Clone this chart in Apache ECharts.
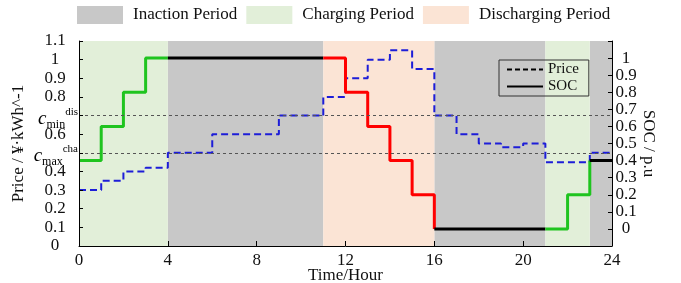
<!DOCTYPE html>
<html>
<head>
<meta charset="utf-8">
<script src="https://cdn.jsdelivr.net/npm/echarts@6/dist/echarts.min.js"></script>
<style>
  html, body { margin: 0; padding: 0; background: #fff; }
  #container { width: 681px; height: 283px; }
</style>
</head>
<body>
<div id="container"></div>
<script>
var dom = document.getElementById('container');
var myChart = echarts.init(dom, null, { renderer: 'canvas' });

var FONT = '"Liberation Serif", "DejaVu Serif", serif';

// hourly price (left axis), value held over [h, h+1)
var priceHourly = [0.30, 0.35, 0.40, 0.42, 0.50, 0.50, 0.60, 0.60, 0.60, 0.70, 0.70, 0.80,
                   0.90, 1.00, 1.05, 0.95, 0.70, 0.60, 0.55, 0.53, 0.55, 0.45, 0.45, 0.50];
// hourly SOC (right axis)
var socHourly = [0.4, 0.6, 0.8, 1.0, 1.0, 1.0, 1.0, 1.0, 1.0, 1.0, 1.0, 1.0,
                 0.8, 0.6, 0.4, 0.2, 0, 0, 0, 0, 0, 0, 0.2, 0.4];

var inactionPeriods = [[4, 11], [16, 21], [23, 24]];
var chargingPeriods = [[0, 4], [21, 23]];
var dischargingPeriods = [[11, 16]];

// price thresholds (c_min^dis, c_max^cha)
var thresholds = [0.7, 0.5];

var xTicks = [0, 4, 8, 12, 16, 20, 24];

var colors = {
    inaction: '#c8c8c8',
    charging: '#e2efd9',
    discharging: '#fbe4d5',
    chargeLine: '#1fc41f',
    dischargeLine: '#ff0000',
    idleLine: '#000000',
    price: '#1d1dd8'
};

function stepData(values, from, to) {
    var out = [];
    for (var h = from; h <= to; h++) {
        var v = h < values.length ? values[h] : values[values.length - 1];
        out.push([h, v]);
    }
    return out;
}

function areaData(periods) {
    return periods.map(function (p) {
        return [{ xAxis: p[0] }, { xAxis: p[1] }];
    });
}

// SOC pieces coloured by period type
var socSegments = [];
inactionPeriods.forEach(function (p) { socSegments.push({ p: p, color: colors.idleLine }); });
chargingPeriods.forEach(function (p) { socSegments.push({ p: p, color: colors.chargeLine }); });
dischargingPeriods.forEach(function (p) { socSegments.push({ p: p, color: colors.dischargeLine }); });
socSegments.sort(function (a, b) { return a.p[0] - b.p[0]; });

var series = [];

// shaded periods
[['Inaction Period', inactionPeriods, colors.inaction],
 ['Charging Period', chargingPeriods, colors.charging],
 ['Discharging Period', dischargingPeriods, colors.discharging]].forEach(function (s) {
    series.push({
        name: s[0],
        type: 'line',
        xAxisIndex: 0,
        yAxisIndex: 0,
        data: [],
        color: s[2],
        markArea: {
            silent: true,
            itemStyle: { color: s[2], opacity: 1 },
            data: areaData(s[1])
        }
    });
});

// price
series.push({
    name: 'Price',
    type: 'line',
    yAxisIndex: 0,
    step: 'end',
    symbol: 'none',
    data: stepData(priceHourly, 0, 24),
    lineStyle: { color: colors.price, width: 2, type: [7, 4] },
    color: colors.price,
    z: 3,
    markLine: {
        silent: true,
        symbol: 'none',
        lineStyle: { color: '#555', width: 1, type: [3, 3] },
        label: {
            position: 'start',
            distance: 1,
            padding: [6, 0, 0, 0],
            fontFamily: FONT,
            color: '#000',
            rich: {
                c: { fontFamily: FONT, fontStyle: 'italic', fontSize: 19, lineHeight: 24, verticalAlign: 'middle' },
                sub: { fontFamily: FONT, fontSize: 12, verticalAlign: 'bottom' },
                sup: { fontFamily: FONT, fontSize: 11, verticalAlign: 'top' }
            }
        },
        data: [
            { yAxis: thresholds[0], label: { formatter: '{c|c}{sub|min}{sup|dis}' } },
            { yAxis: thresholds[1], label: { formatter: '{c|c}{sub|max}{sup|cha}' } }
        ]
    }
});

// SOC
socSegments.forEach(function (seg) {
    series.push({
        name: 'SOC',
        type: 'line',
        yAxisIndex: 1,
        step: 'end',
        symbol: 'none',
        data: stepData(socHourly, seg.p[0], seg.p[1]),
        lineStyle: { color: seg.color, width: 3 },
        color: seg.color,
        z: 4
    });
});

function fmt(v) {
    return String(parseFloat(v.toFixed(1)));
}

var hiddenSymbol = { opacity: 0, color: 'transparent', borderWidth: 0 };

var option = {
    animation: false,
    textStyle: { fontFamily: FONT },
    grid: { left: 79, right: 69, top: 41, bottom: 37, outerBoundsMode: 'none' },
    legend: [
        {
            data: ['Inaction Period', 'Charging Period', 'Discharging Period'],
            icon: 'rect',
            left: 72,
            top: 1,
            itemWidth: 46,
            itemHeight: 18,
            itemGap: 9,
            selectedMode: false,
            textStyle: { fontFamily: FONT, fontSize: 17, color: '#111', padding: [0, 0, 0, 5] }
        },
        {
            data: [
                { name: 'Price', itemStyle: hiddenSymbol, lineStyle: { color: '#000', width: 2, type: [5, 3] } },
                { name: 'SOC', itemStyle: hiddenSymbol, lineStyle: { color: '#000', width: 2, type: 'solid' } }
            ],
            orient: 'vertical',
            left: 499,
            top: 60,
            itemWidth: 36,
            itemHeight: 14,
            itemGap: 2,
            padding: [2, 10, 2, 7],
            borderColor: '#333',
            borderWidth: 1,
            selectedMode: false,
            textStyle: { fontFamily: FONT, fontSize: 15, color: '#111' }
        }
    ],
    xAxis: {
        type: 'value',
        min: 0,
        max: 24,
        interval: 4,
        z: 10,
        name: 'Time/Hour',
        nameLocation: 'middle',
        nameGap: 21,
        nameMoveOverlap: false,
        nameTextStyle: { fontFamily: FONT, fontSize: 17, color: '#111' },
        axisLine: { onZero: false, lineStyle: { color: '#000', width: 1 } },
        axisTick: { inside: true, length: 5, lineStyle: { color: '#000' } },
        splitLine: { show: false },
        axisLabel: {
            fontFamily: FONT, fontSize: 17, color: '#111', margin: 6,
            customValues: xTicks
        }
    },
    yAxis: [
        {
            type: 'value',
            min: 0,
            max: 1.1,
            interval: 0.1,
            z: 10,
            name: 'Price / ¥·kWh^-1',
            nameLocation: 'middle',
            nameGap: 52,
            nameMoveOverlap: false,
            nameTextStyle: { fontFamily: FONT, fontSize: 17, color: '#111' },
            axisLine: { show: true, lineStyle: { color: '#000', width: 1 } },
            axisTick: { show: true, inside: true, length: 4, lineStyle: { color: '#000' } },
            splitLine: { show: false },
            axisLabel: {
                fontFamily: FONT, fontSize: 17, color: '#111', margin: 24, align: 'center',
                formatter: function (v) {
                    var s = fmt(v);
                    return (s === '0.7' || s === '0.5') ? '' : s;
                }
            }
        },
        {
            type: 'value',
            min: -0.1,
            max: 1.1,
            interval: 0.1,
            z: 10,
            position: 'right',
            name: 'SOC / p.u',
            nameLocation: 'middle',
            nameRotate: -90,
            nameGap: 28,
            nameMoveOverlap: false,
            nameTextStyle: { fontFamily: FONT, fontSize: 17, color: '#111' },
            axisLine: { show: true, lineStyle: { color: '#000', width: 1 } },
            axisTick: { show: true, inside: true, length: 4, lineStyle: { color: '#000' } },
            splitLine: { show: false },
            axisLabel: {
                fontFamily: FONT, fontSize: 17, color: '#111', margin: 14, align: 'center',
                formatter: function (v) {
                    var n = parseFloat(v.toFixed(1));
                    return (n < 0 || n > 1) ? '' : String(n);
                }
            }
        }
    ],
    series: series
};

myChart.setOption(option);
window.addEventListener('resize', myChart.resize);
</script>
</body>
</html>
